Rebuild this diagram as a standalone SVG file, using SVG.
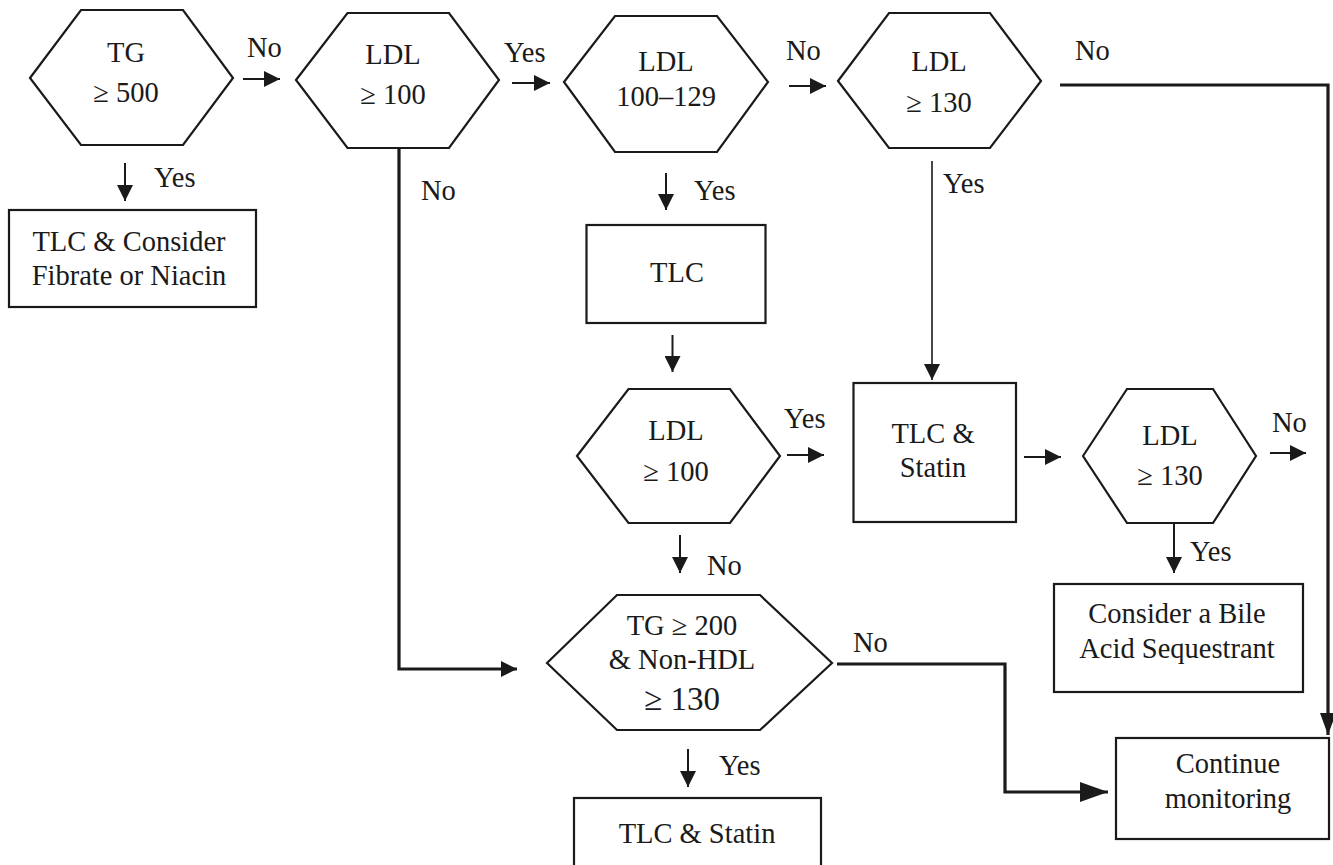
<svg xmlns="http://www.w3.org/2000/svg" width="1333" height="865" viewBox="0 0 1333 865" font-family="Liberation Serif">
<defs>
<marker id="ah" markerUnits="userSpaceOnUse" markerWidth="16" markerHeight="16" refX="16" refY="8" orient="auto">
<path d="M0,0 L16,8 L0,16 z" fill="#1a1a1a"/>
</marker>
<marker id="ahL" markerUnits="userSpaceOnUse" markerWidth="28" markerHeight="20" refX="28" refY="10" orient="auto">
<path d="M0,0 L28,10 L0,20 z" fill="#1a1a1a"/>
</marker>
<marker id="ahM" markerUnits="userSpaceOnUse" markerWidth="22" markerHeight="16" refX="22" refY="8" orient="auto">
<path d="M0,0 L22,8 L0,16 z" fill="#1a1a1a"/>
</marker>
</defs>
<style>
.shape{fill:#fff;stroke:#1a1a1a;stroke-width:2.2}
.t{font-family:'Liberation Serif',serif;font-size:28.5px;fill:#1a1a1a;text-anchor:middle}
.lbl{font-family:'Liberation Serif',serif;font-size:28.5px;fill:#1a1a1a}
.c{fill:none;stroke:#1a1a1a;stroke-width:2;marker-end:url(#ah)}
.ck{fill:none;stroke:#1a1a1a;stroke-width:3.2}
</style>
<rect width="1333" height="865" fill="#fff"/>

<g id="connectors">
<line class="c" x1="125" y1="163" x2="125" y2="201"/>
<line class="c" x1="243" y1="79" x2="280" y2="79"/>
<line class="c" x1="512" y1="83" x2="550" y2="83"/>
<line class="c" x1="666" y1="173" x2="666" y2="210"/>
<line class="c" x1="789" y1="86" x2="826" y2="86"/>
<polyline class="ck" points="1060,85 1328,85 1328,735" style="marker-end:url(#ahM)"/>
<line class="c" x1="932" y1="161" x2="932" y2="380" style="stroke-width:1.6"/>
<line class="c" x1="672.5" y1="335" x2="672.5" y2="372"/>
<line class="c" x1="787" y1="455" x2="824" y2="455"/>
<line class="c" x1="1024" y1="457" x2="1061" y2="457"/>
<line class="c" x1="1270" y1="453" x2="1306" y2="453"/>
<line class="c" x1="1174" y1="523" x2="1174" y2="573"/>
<line class="c" x1="680" y1="535" x2="680" y2="573"/>
<polyline class="ck" points="399,148 399,669 517,669" style="marker-end:url(#ah)"/>
<polyline class="ck" points="837,664 1005,664 1005,792 1108,792" style="marker-end:url(#ahL)"/>
<line class="c" x1="688" y1="749" x2="688" y2="787"/>
<text class="lbl" x="247" y="57">No</text>
<text class="lbl" x="154" y="187">Yes</text>
<text class="lbl" x="504" y="62">Yes</text>
<text class="lbl" x="421" y="200">No</text>
<text class="lbl" x="694" y="200">Yes</text>
<text class="lbl" x="786" y="60">No</text>
<text class="lbl" x="943" y="193">Yes</text>
<text class="lbl" x="1075" y="60">No</text>
<text class="lbl" x="784" y="428">Yes</text>
<text class="lbl" x="1272" y="432">No</text>
<text class="lbl" x="707" y="575">No</text>
<text class="lbl" x="1190" y="561">Yes</text>
<text class="lbl" x="853" y="652">No</text>
<text class="lbl" x="719" y="775">Yes</text>
</g>

<g id="tg500">
<polygon class="shape" points="30,78 81,10 183,10 233,78 183,145 81,145"/>
<text class="t" x="126" y="62">TG</text>
<text class="t" x="126" y="102">≥ 500</text>
</g>

<g id="tlc-fibrate">
<rect class="shape" x="9" y="210" width="247" height="97"/>
<text class="t" x="129" y="251">TLC &amp; Consider</text>
<text class="t" x="129" y="285">Fibrate or Niacin</text>
</g>

<g id="ldl100">
<polygon class="shape" points="296,80 347.5,13 449,13 499,80 449,148 347.5,148"/>
<text class="t" x="393" y="64">LDL</text>
<text class="t" x="393" y="104">≥ 100</text>
</g>

<g id="ldl100-129">
<polygon class="shape" points="564,82 615,16 717,16 768,82 717,152 615,152"/>
<text class="t" x="666" y="71">LDL</text>
<text class="t" x="666" y="106">100–129</text>
</g>

<g id="ldl130">
<polygon class="shape" points="838,81 889,13 990,13 1041,81 990,148 889,148"/>
<text class="t" x="939" y="71">LDL</text>
<text class="t" x="939" y="112">≥ 130</text>
</g>

<g id="tlc">
<rect class="shape" x="586.5" y="225" width="179" height="98"/>
<text class="t" x="677" y="282">TLC</text>
</g>

<g id="ldl100b">
<polygon class="shape" points="577,456 628.5,389 730,389 780,456 730,523 628.5,523"/>
<text class="t" x="676" y="440">LDL</text>
<text class="t" x="676" y="481">≥ 100</text>
</g>

<g id="tlc-statin">
<rect class="shape" x="853.5" y="383" width="162.5" height="139"/>
<text class="t" x="933" y="443">TLC &amp;</text>
<text class="t" x="933" y="477">Statin</text>
</g>

<g id="ldl130b">
<polygon class="shape" points="1083,456 1127,389 1213,389 1256,456 1213,523 1127,523"/>
<text class="t" x="1170" y="445">LDL</text>
<text class="t" x="1170" y="485">≥ 130</text>
</g>

<g id="bile">
<rect class="shape" x="1054" y="584" width="249" height="108"/>
<text class="t" x="1177" y="623">Consider a Bile</text>
<text class="t" x="1177" y="658">Acid Sequestrant</text>
</g>

<g id="tg200">
<polygon class="shape" points="547,663 617,595 760,595 832,663 760,730 617,730"/>
<text class="t" x="682" y="635">TG ≥ 200</text>
<text class="t" x="682" y="669">&amp; Non-HDL</text>
<text class="t" x="682" y="710" style="font-size:33px">≥ 130</text>
</g>

<g id="tlc-statin-b">
<rect class="shape" x="574" y="798" width="247" height="72"/>
<text class="t" x="697" y="843">TLC &amp; Statin</text>
</g>

<g id="continue">
<rect class="shape" x="1116" y="738" width="213" height="101"/>
<text class="t" x="1228" y="773">Continue</text>
<text class="t" x="1228" y="808">monitoring</text>
</g>
</svg>
